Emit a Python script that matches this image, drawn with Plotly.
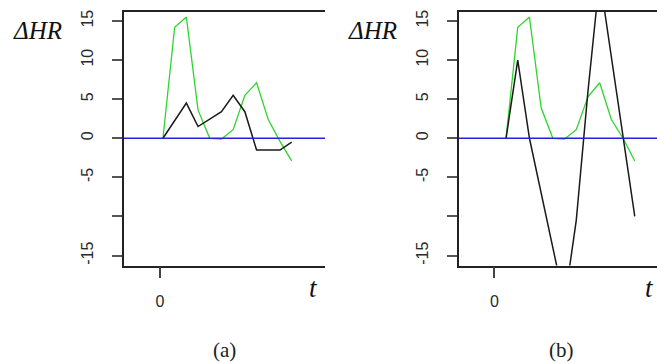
import plotly.graph_objects as go

# ---- data ----
t_a = [0.25, 1.25, 2.25, 3.25, 4.25, 5.25, 6.25, 7.25, 8.25, 9.25, 10.25, 11.25]
t_b = [1, 2, 3, 4, 5, 6, 7, 8, 9, 10, 11, 12]
green_a = [0, 14.2, 15.5, 3.6, 0, -0.1, 1.1, 5.5, 7.1, 2.4, -0.4, -2.9]
black_a = [0, 2.2, 4.5, 1.5, 2.5, 3.4, 5.5, 3.4, -1.5, -1.5, -1.5, -0.5]
green_b = [0, 14.2, 15.5, 3.9, 0, -0.1, 1.1, 5.3, 7.1, 2.4, 0, -2.9]
black_b = [0, 10, 0, -7, -14, -21, -10.5, 6, 20.6, 10.4, 0.2, -10]

y_tickvals = [-15, -10, -5, 0, 5, 10, 15]
y_ticktext = ["-15", "", "-5", "0", "5", "10", "15"]
x_tickvals = [0]
x_ticktext = ["0"]
panel_labels = ["(a)", "(b)"]

W, H = 657, 364
GREEN = "#2fd42f"
BLUE = "#2323d8"
BLACK = "#1a1a1a"

fig = go.Figure()
fig.add_trace(go.Scatter(x=t_a, y=green_a, mode="lines", line=dict(color=GREEN, width=1.3),
                         xaxis="x", yaxis="y", showlegend=False))
fig.add_trace(go.Scatter(x=t_a, y=black_a, mode="lines", line=dict(color=BLACK, width=1.5),
                         xaxis="x", yaxis="y", showlegend=False))
fig.add_trace(go.Scatter(x=t_b, y=green_b, mode="lines", line=dict(color=GREEN, width=1.3),
                         xaxis="x2", yaxis="y2", showlegend=False))
fig.add_trace(go.Scatter(x=t_b, y=black_b, mode="lines", line=dict(color=BLACK, width=1.5),
                         xaxis="x2", yaxis="y2", showlegend=False))

ydom = [1 - 265 / H, 1 - 10 / H]
yrange = [-16.28, 16.16]

tickfont = dict(family="Liberation Sans, Arial, sans-serif", size=16, color="#2a2a2a")

def xax(domain, rng, anchor):
    return dict(domain=domain, range=rng, anchor=anchor, showgrid=False, zeroline=False,
                showline=True, mirror=True, linecolor="#222", linewidth=1.5,
                ticks="outside", ticklen=11, tickwidth=1.5, tickcolor="#444",
                tickvals=x_tickvals, ticktext=x_ticktext, tickfont=tickfont,
                ticklabelstandoff=10)

def yax(anchor):
    return dict(domain=ydom, range=yrange, anchor=anchor, showgrid=False, zeroline=False,
                showline=True, mirror=False, linecolor="#222", linewidth=1.5,
                ticks="outside", ticklen=10, tickwidth=1.5, tickcolor="#555",
                tickvals=y_tickvals, ticktext=y_ticktext, tickangle=-90,
                tickfont=tickfont, ticklabelstandoff=13)

fig.update_layout(
    width=W, height=H, margin=dict(l=0, r=0, t=0, b=0),
    paper_bgcolor="white", plot_bgcolor="white",
    xaxis=xax([124 / W, 325 / W], [-3.08, 14.1], "y"),
    yaxis=yax("x"),
    xaxis2=xax([459 / W, 1.0], [-3.02, 13.9], "y2"),
    yaxis2=yax("x2"),
    showlegend=False,
)

# zero reference lines
for xr, yr in [("x domain", "y"), ("x2 domain", "y2")]:
    fig.add_shape(type="line", xref=xr, yref=yr, x0=0, x1=1, y0=0, y1=0,
                  line=dict(color=BLUE, width=1.5), layer="above")

serif = "Liberation Serif, Times New Roman, serif"
for cx in [37, 372]:
    fig.add_annotation(text="<i>ΔHR</i>", xref="paper", yref="paper", x=cx / W, y=1 - 29 / H,
                       showarrow=False, font=dict(family=serif, size=25, color="#111"),
                       xanchor="center", yanchor="middle")
for cx in [313, 649]:
    fig.add_annotation(text="<i>t</i>", xref="paper", yref="paper", x=cx / W, y=1 - 288 / H,
                       showarrow=False, font=dict(family=serif, size=27, color="#111"),
                       xanchor="center", yanchor="middle")
for cx, lab in zip([224, 561], panel_labels):
    fig.add_annotation(text=lab, xref="paper", yref="paper", x=cx / W, y=1 - 350 / H,
                       showarrow=False, font=dict(family=serif, size=21, color="#222"),
                       xanchor="center", yanchor="middle")

fig.write_html("out.html", config={"displayModeBar": False},
               post_script="document.body.style.margin='0';document.body.style.overflow='hidden';")
